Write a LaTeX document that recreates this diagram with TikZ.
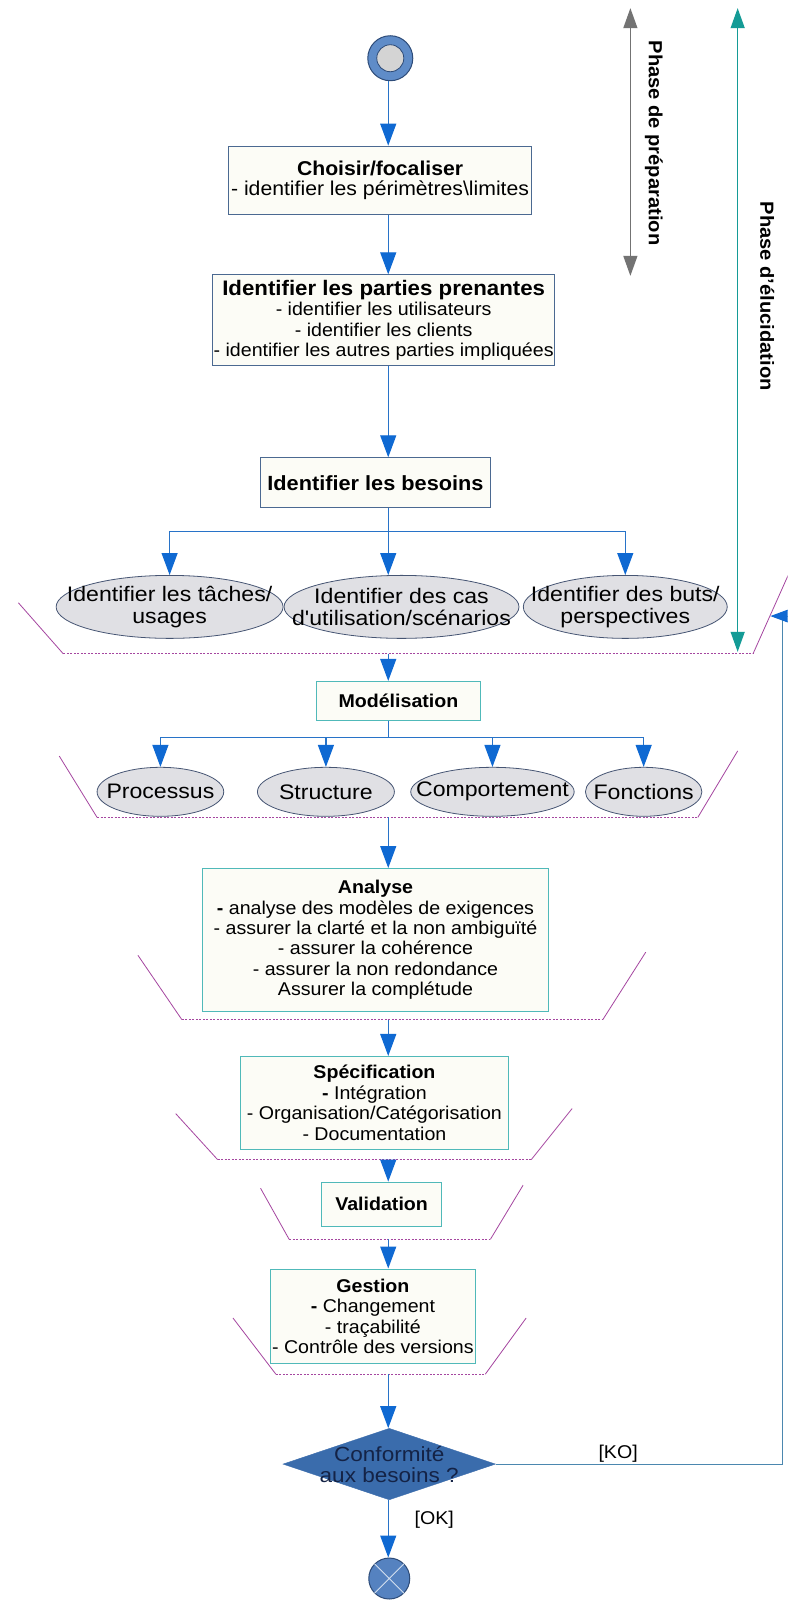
\documentclass[tikz,border=0pt]{standalone}
\usepackage{fontspec}
\setmainfont[FakeStretch=1.06]{Liberation Sans}
\newfontfamily\ellfont[FakeStretch=1.1]{Liberation Sans}
\usetikzlibrary{arrows.meta,shapes.geometric}
\definecolor{boxblue}{RGB}{75,105,145}
\definecolor{boxteal}{RGB}{80,185,185}
\definecolor{boxfill}{RGB}{252,252,246}
\definecolor{arrowblue}{RGB}{15,105,210}
\definecolor{stemblue}{RGB}{40,115,200}
\definecolor{ellfill}{RGB}{224,224,228}
\definecolor{elldraw}{RGB}{70,85,115}
\definecolor{pinkline}{RGB}{165,70,160}
\definecolor{prepgray}{RGB}{115,115,115}
\definecolor{eluteal}{RGB}{20,155,150}
\definecolor{decfill}{RGB}{58,108,172}
\definecolor{decdark}{RGB}{20,35,70}
\definecolor{startfill}{RGB}{95,140,200}
\definecolor{startdraw}{RGB}{45,75,120}
\definecolor{innerfill}{RGB}{212,212,212}
\definecolor{endfill}{RGB}{85,130,192}
\definecolor{koline}{RGB}{75,135,175}
\begin{document}
\begin{tikzpicture}[x=1.022pt,y=-1.022pt,
  every node/.style={font=\fontsize{18.5pt}{20.5pt}\selectfont},
  box/.style={draw=boxblue, fill=boxfill, line width=0.9pt, align=center, inner sep=1pt},
  tbox/.style={box, draw=boxteal},
  ell/.style={ellipse, draw=elldraw, fill=ellfill, line width=0.8pt, inner sep=0pt},
  elltext/.style={align=center, font=\ellfont\fontsize{21pt}{22pt}\selectfont},
  stem/.style={draw=stemblue, line width=1.2pt},
  arr/.style={stem, -{Triangle[length=22pt,width=16pt,color=arrowblue]}},
  bracket/.style={draw=pinkline, line width=0.8pt},
  dots/.style={draw=pinkline, line width=0.9pt, dash pattern=on 2pt off 1.5pt},
  lbl/.style={font=\fontsize{19pt}{20pt}\selectfont\bfseries, rotate=-90},
  twoway/.style={line width=1.3pt, {Triangle[length=20pt,width=14pt]}-{Triangle[length=20pt,width=14pt]}}
]
\fill[white] (0,0) rectangle (771,1568);
\useasboundingbox (0,0) rectangle (771,1568);
\clip (0,0) rectangle (771,1568);

\coordinate (fx) at (380,0);

% start
\node[circle, draw=startdraw, fill=startfill, line width=1pt, minimum size=45pt, inner sep=0pt] (start) at (382,57) {};
\node[circle, draw=startdraw, fill=innerfill, line width=0.8pt, minimum size=27pt, inner sep=0pt] (startin) at (start) {};

% boxes
\node[box, minimum width=302.5pt, minimum height=68.5pt, font=\fontsize{20pt}{20.5pt}\selectfont] (choisir) at (372,176.5)
  {\textbf{Choisir/focaliser}\\- identifier les périmètres\textbackslash limites};
\node[box, minimum width=340pt, minimum height=91pt] (parties) at (375.5,313.5)
  {{\fontsize{21pt}{20.5pt}\selectfont\textbf{Identifier les parties prenantes}}\\- identifier les utilisateurs\\- identifier les clients\\- identifier les autres parties impliquées};
\node[box, minimum width=230pt, minimum height=50pt, font=\fontsize{20.5pt}{20.5pt}\selectfont] (besoins) at (367.5,472.5) {\textbf{Identifier les besoins}};

\node[ell, minimum width=227pt, minimum height=63pt, label={[elltext]center:{Identifier les tâches/\\usages}}] (e1) at (166,594) {};
\node[ell, minimum width=235pt, minimum height=63pt, label={[elltext]center:{Identifier des cas\\d'utilisation/scénarios}}] (e2) at (393,594) {};
\node[ell, minimum width=204pt, minimum height=63pt, label={[elltext]center:{Identifier des buts/\\perspectives}}] (e3) at (612,594) {};

\node[tbox, minimum width=163.5pt, minimum height=39pt] (model) at (390,686) {\textbf{Modélisation}};

\node[ell, minimum width=126.7pt, minimum height=49pt, label={[elltext]center:Processus}] (p1) at (157,775) {};
\node[ell, minimum width=137pt, minimum height=49pt, label={[elltext]center:Structure}] (p2) at (319,775) {};
\node[ell, minimum width=163.5pt, minimum height=49pt, label={[elltext]center:Comportement}] (p3) at (482,775) {};
\node[ell, minimum width=116.5pt, minimum height=49pt, label={[elltext]center:Fonctions}] (p4) at (630,775) {};

\node[tbox, minimum width=346.5pt, minimum height=143pt] (analyse) at (367.5,920)
  {\textbf{Analyse}\\\textbf{-} analyse des modèles de exigences\\- assurer la clarté et la non ambiguïté\\- assurer la cohérence\\- assurer la non redondance\\Assurer la complétude};
\node[tbox, minimum width=269pt, minimum height=93pt] (spec) at (366.5,1079.5)
  {\textbf{Spécification}\\\textbf{-} Intégration\\- Organisation/Catégorisation\\- Documentation};
\node[tbox, minimum width=119.5pt, minimum height=44pt] (valid) at (373.5,1178.5) {\textbf{Validation}};
\node[tbox, minimum width=204.4pt, minimum height=95pt] (gestion) at (365,1288.5)
  {\textbf{Gestion}\\\textbf{-} Changement\\- traçabilité\\- Contrôle des versions};

\node[diamond, fill=decfill, draw=decfill, minimum width=212.6pt, minimum height=71.5pt, inner sep=0pt,
  label={[elltext, font=\ellfont\fontsize{20.5pt}{21pt}\selectfont, text=decdark]center:{Conformité\\aux besoins ?}}] (dec) at (381,1433) {};

\node[circle, draw=startdraw, fill=endfill, line width=1pt, minimum size=41pt, inner sep=0pt] (end) at (381,1545) {};
\draw[white!75!endfill, line width=1pt] (end.north west) -- (end.south east) (end.north east) -- (end.south west);

% brackets
\coordinate (b1a) at (18,590);  \coordinate (b1b) at (62,640);  \coordinate (b1c) at (737,640);  \coordinate (b1d) at (775,555);
\coordinate (b2a) at (58,740);  \coordinate (b2b) at (95,800);  \coordinate (b2c) at (683,800);  \coordinate (b2d) at (722,735);
\coordinate (b3a) at (135,935); \coordinate (b3b) at (178,998); \coordinate (b3c) at (590,998);  \coordinate (b3d) at (632,932);
\coordinate (b4a) at (172,1090);\coordinate (b4b) at (213,1135);\coordinate (b4c) at (520,1135); \coordinate (b4d) at (560,1085);
\coordinate (b5a) at (255,1163);\coordinate (b5b) at (283,1213);\coordinate (b5c) at (480,1213); \coordinate (b5d) at (512,1160);
\coordinate (b6a) at (228,1290);\coordinate (b6b) at (270,1345);\coordinate (b6c) at (475,1345); \coordinate (b6d) at (515,1290);
\foreach \b in {b1,b2,b3,b4,b5,b6}{
  \draw[bracket] (\b a) -- (\b b);
  \draw[dots] (\b b) -- (\b c);
  \draw[bracket] (\b c) -- (\b d);
}

% flow arrows
\draw[arr] (start.south -| fx) -- (choisir.north -| fx);
\draw[arr] (choisir.south -| fx) -- (parties.north -| fx);
\draw[arr] (parties.south -| fx) -- (besoins.north -| fx);
\coordinate (br1) at (380,520);
\draw[stem] (besoins.south -| fx) -- (br1);
\draw[stem] (br1 -| e1) -- (br1 -| e3);
\draw[arr] (br1 -| e1) -- (e1.north);
\draw[arr] (br1) -- (e2.north -| br1);
\draw[arr] (br1 -| e3) -- (e3.north);

\draw[arr] (b1b -| fx) -- (model.north -| fx);
\coordinate (br2) at (380,722);
\draw[stem] (model.south -| fx) -- (br2);
\draw[stem] (br2 -| p1) -- (br2 -| p4);
\draw[arr] (br2 -| p1) -- (p1.north);
\draw[arr] (br2 -| p2) -- (p2.north);
\draw[arr] (br2 -| p3) -- (p3.north);
\draw[arr] (br2 -| p4) -- (p4.north);

\draw[arr] (b2b -| fx) -- (analyse.north -| fx);
\draw[arr] (b3b -| fx) -- (spec.north -| fx);
\draw[arr] (b4b -| fx) -- (valid.north -| fx);
\draw[arr] (b5b -| fx) -- (gestion.north -| fx);
\draw[arr] (b6b -| fx) -- (dec.north -| fx);
\draw[arr] (dec.south -| fx) -- (end.north -| fx);

% KO loop
\coordinate (kocorner) at (766,603);
\coordinate (kotip) at (754,603);
\draw[draw=koline, line width=1pt, -{Triangle[length=22pt,width=16pt,color=arrowblue]}] (dec.east) -| (kocorner) -- (kotip);
\node (ko) at (605,1423) {[KO]};
\node (ok) at (425,1487) {[OK]};

% phases
\coordinate (prepT) at (617,8); \coordinate (prepB) at (617,270);
\draw[twoway, draw=prepgray] (prepT) -- (prepB);
\node[lbl] (prepL) at (640,140) {Phase de préparation};
\coordinate (eluT) at (722,8); \coordinate (eluB) at (722,638);
\draw[twoway, draw=eluteal] (eluT) -- (eluB);
\node[lbl] (eluL) at (751,290) {Phase d'élucidation};
\end{tikzpicture}
\end{document}
